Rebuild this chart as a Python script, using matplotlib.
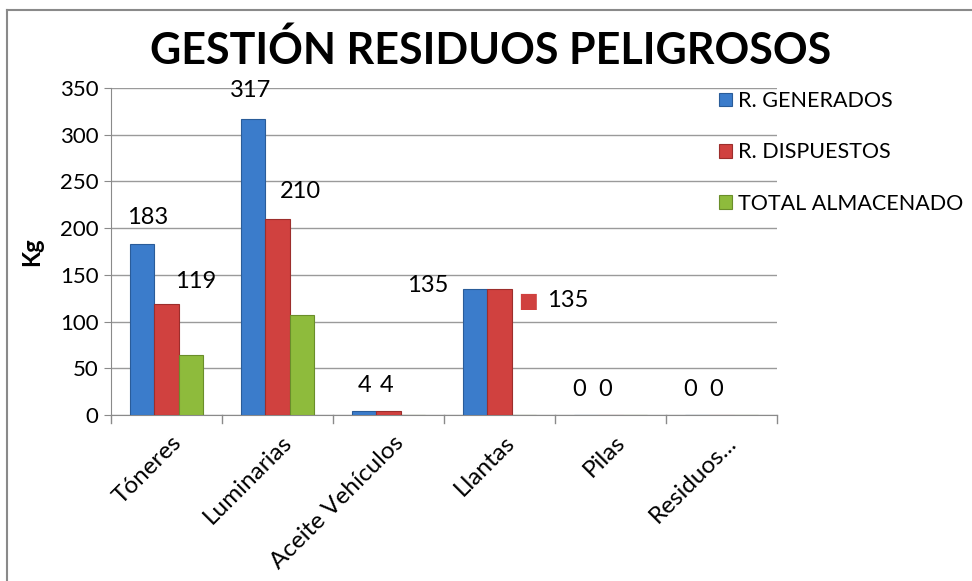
import matplotlib
matplotlib.use("Agg")
import matplotlib.pyplot as plt
import matplotlib.transforms as mtransforms
import numpy as np

categories = ["Tóneres", "Luminarias", "Aceite Vehículos", "Llantas", "Pilas", "Residuos..."]
generados = [183, 317, 4, 135, 0, 0]
dispuestos = [119, 210, 4, 135, 0, 0]
almacenado = [64, 107, 0, 0, 0, 0]
series_names = ["R. GENERADOS", "R. DISPUESTOS", "TOTAL ALMACENADO"]
colors = ["#3B7CCB", "#D0413F", "#8EBB3C"]
edges = ["#2A5C99", "#9C2E2C", "#6A8E2A"]

plt.rcParams['font.family'] = ['Lato', 'DejaVu Sans']

fig = plt.figure(figsize=(9.72, 5.81), dpi=100)
ax = fig.add_axes([111/972, 1-415/581, 666/972, (415-88)/581])

x = np.arange(len(categories))
w = 0.22
for i, (vals, c, e, n) in enumerate(zip([generados, dispuestos, almacenado], colors, edges, series_names)):
    ax.bar(x + (i-1)*w, vals, w, color=c, edgecolor=e, linewidth=0.8, label=n, zorder=3)

ax.set_xlim(-0.5, len(categories)-0.5)
ax.set_ylim(0, 350)
ax.set_yticks(np.arange(0, 351, 50))
ax.yaxis.grid(True, color="#9a9a9a", linewidth=1, zorder=0)
ax.set_axisbelow(True)
for s in ["top", "right"]:
    ax.spines[s].set_visible(False)
ax.spines["left"].set_color("#8a8a8a")
ax.spines["bottom"].set_color("#8a8a8a")
ax.tick_params(axis="y", labelsize=16, color="#8a8a8a", length=5, pad=4)
ax.set_xticks(x)
ax.set_xticklabels(categories, rotation=45, ha="right", rotation_mode="anchor", fontsize=17.5)
ax.tick_params(axis="x", length=0, pad=12)
offset = mtransforms.ScaledTranslation(4/100, 0, fig.dpi_scale_trans)
for lbl in ax.get_xticklabels():
    lbl.set_transform(lbl.get_transform() + offset)
for b in np.arange(-0.5, len(categories), 1.0):
    ax.plot([b, b], [0, -0.025], transform=ax.get_xaxis_transform(), color="#8a8a8a", lw=1, clip_on=False)

ax.set_ylabel("Kg", fontsize=17, fontweight="bold", labelpad=12)

fig.text(0.505, 0.913, "GESTIÓN RESIDUOS PELIGROSOS", ha="center", va="center",
         fontsize=31, fontweight="bold")

# value labels (blue and red series)
lab_fs = 17
blue_off = [(6, 27), (-3, 28), (0, 26), (-47, 3), (-7, 25), (-7, 25)]
red_off = [(29, 22), (23, 27), (-2, 26), (68, -12), (-5, 25), (-5, 25)]
for i in range(len(categories)):
    ax.annotate(f"{generados[i]}", (x[i]-w, generados[i]), xytext=blue_off[i],
                textcoords="offset pixels", ha="center", va="center", fontsize=lab_fs)
    ax.annotate(f"{dispuestos[i]}", (x[i], dispuestos[i]), xytext=red_off[i],
                textcoords="offset pixels", ha="center", va="center", fontsize=lab_fs)
# legend key next to Llantas red label
ax.annotate("■", (x[3], dispuestos[3]), xytext=(28, -12), textcoords="offset pixels",
            ha="center", va="center", fontsize=15, color=colors[1])

leg = ax.legend(loc="upper left", bbox_to_anchor=((706-111)/666, 1.03), frameon=False,
                fontsize=15.5, handlelength=0.6, handleheight=0.6, handletextpad=0.3,
                labelspacing=1.45, borderaxespad=0.2)

fig.add_artist(plt.Line2D([7/972, 7/972], [0, 1-10/581], color="#8a8a8a", lw=1.5))
fig.add_artist(plt.Line2D([7/972, 1], [1-10/581, 1-10/581], color="#8a8a8a", lw=1.5))

fig.savefig("out.png", dpi=100)
